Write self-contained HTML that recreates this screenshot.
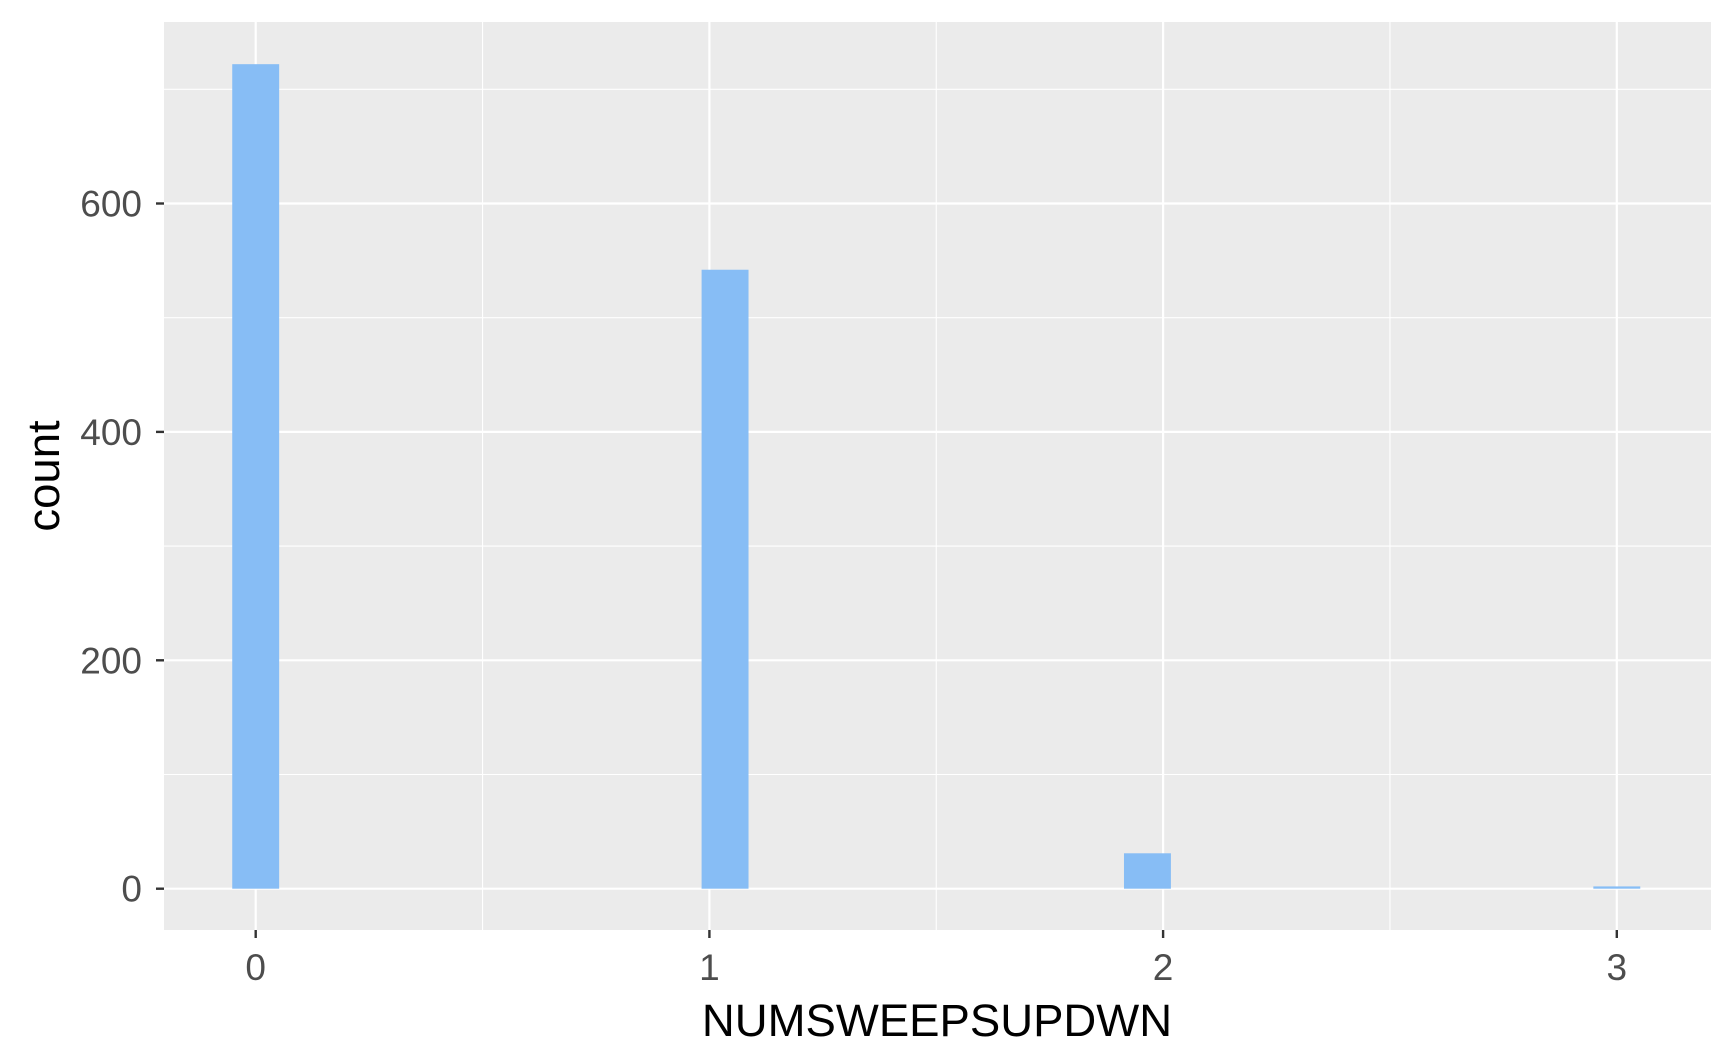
<!DOCTYPE html>
<html><head><meta charset="utf-8"><style>body{margin:0;background:#fff}svg{display:block}text{font-family:"Liberation Sans",sans-serif}</style></head>
<body>
<svg id="c" width="1734" height="1059" xmlns="http://www.w3.org/2000/svg"></svg>
<script>
const binCenters=[0,1.0345,1.9655,3];
const counts=[722,542,31,2];
const xTicks=[0,1,2,3];
const xTickLabels=["0","1","2","3"];
const yTicks=[0,200,400,600];
const yTickLabels=["0","200","400","600"];
const xMinor=[0.5,1.5,2.5];
const yMinor=[100,300,500,700];
const binWidth=3/29;
const L=164,R=1711,T=22,B=930;
const X0=255.7,XS=453.7,Y0=888.7,YS=228.4/200;
const sx=v=>X0+v*XS, sy=v=>Y0-v*YS;
const svg=document.getElementById('c');
const NS='http://www.w3.org/2000/svg';
function mk(t,a,p){const e=document.createElementNS(NS,t);for(const k in a)e.setAttribute(k,a[k]);(p||svg).appendChild(e);return e;}
const bg=mk('rect',{x:L,y:T,width:R-L,height:B-T,fill:'#ebebeb'});


yMinor.forEach(v=>{const l=mk('line',{x1:L,x2:R,y1:sy(v),y2:sy(v),stroke:'#fff','stroke-width':1.1});

});
xMinor.forEach(v=>{const l=mk('line',{x1:sx(v),x2:sx(v),y1:T,y2:B,stroke:'#fff','stroke-width':1.1});

});
yTicks.forEach((v,i)=>{const l=mk('line',{x1:L,x2:R,y1:sy(v),y2:sy(v),stroke:'#fff','stroke-width':2.2});


const t=mk('line',{x1:L-8,x2:L,y1:sy(v),y2:sy(v),stroke:'#333','stroke-width':2.4});


const tx=mk('text',{x:L-22,y:sy(v)+13,'text-anchor':'end','font-size':37,fill:'#4d4d4d'});tx.textContent=yTickLabels[i];

});
xTicks.forEach((v,i)=>{const l=mk('line',{x1:sx(v),x2:sx(v),y1:T,y2:B,stroke:'#fff','stroke-width':2.2});


const t=mk('line',{x1:sx(v),x2:sx(v),y1:B,y2:B+8,stroke:'#333','stroke-width':2.4});


const tx=mk('text',{x:sx(v),y:980,'text-anchor':'middle','font-size':37,fill:'#4d4d4d'});tx.textContent=xTickLabels[i];

});
binCenters.forEach((c,i)=>{const x1=sx(c-binWidth/2),x2=sx(c+binWidth/2);
const r=mk('rect',{x:x1,y:sy(counts[i]),width:x2-x1,height:Math.max(sy(0)-sy(counts[i]),1.5),fill:'#87bdf5'});

});
const xt=mk('text',{x:937,y:1036,'text-anchor':'middle','font-size':45.5,fill:'#000'});xt.textContent='NUMSWEEPSUPDWN';


const yt=mk('text',{x:0,y:0,'text-anchor':'middle','font-size':45.5,fill:'#000',transform:'translate(59,476) rotate(-90)'});yt.textContent='count';


</script>
</body></html>
